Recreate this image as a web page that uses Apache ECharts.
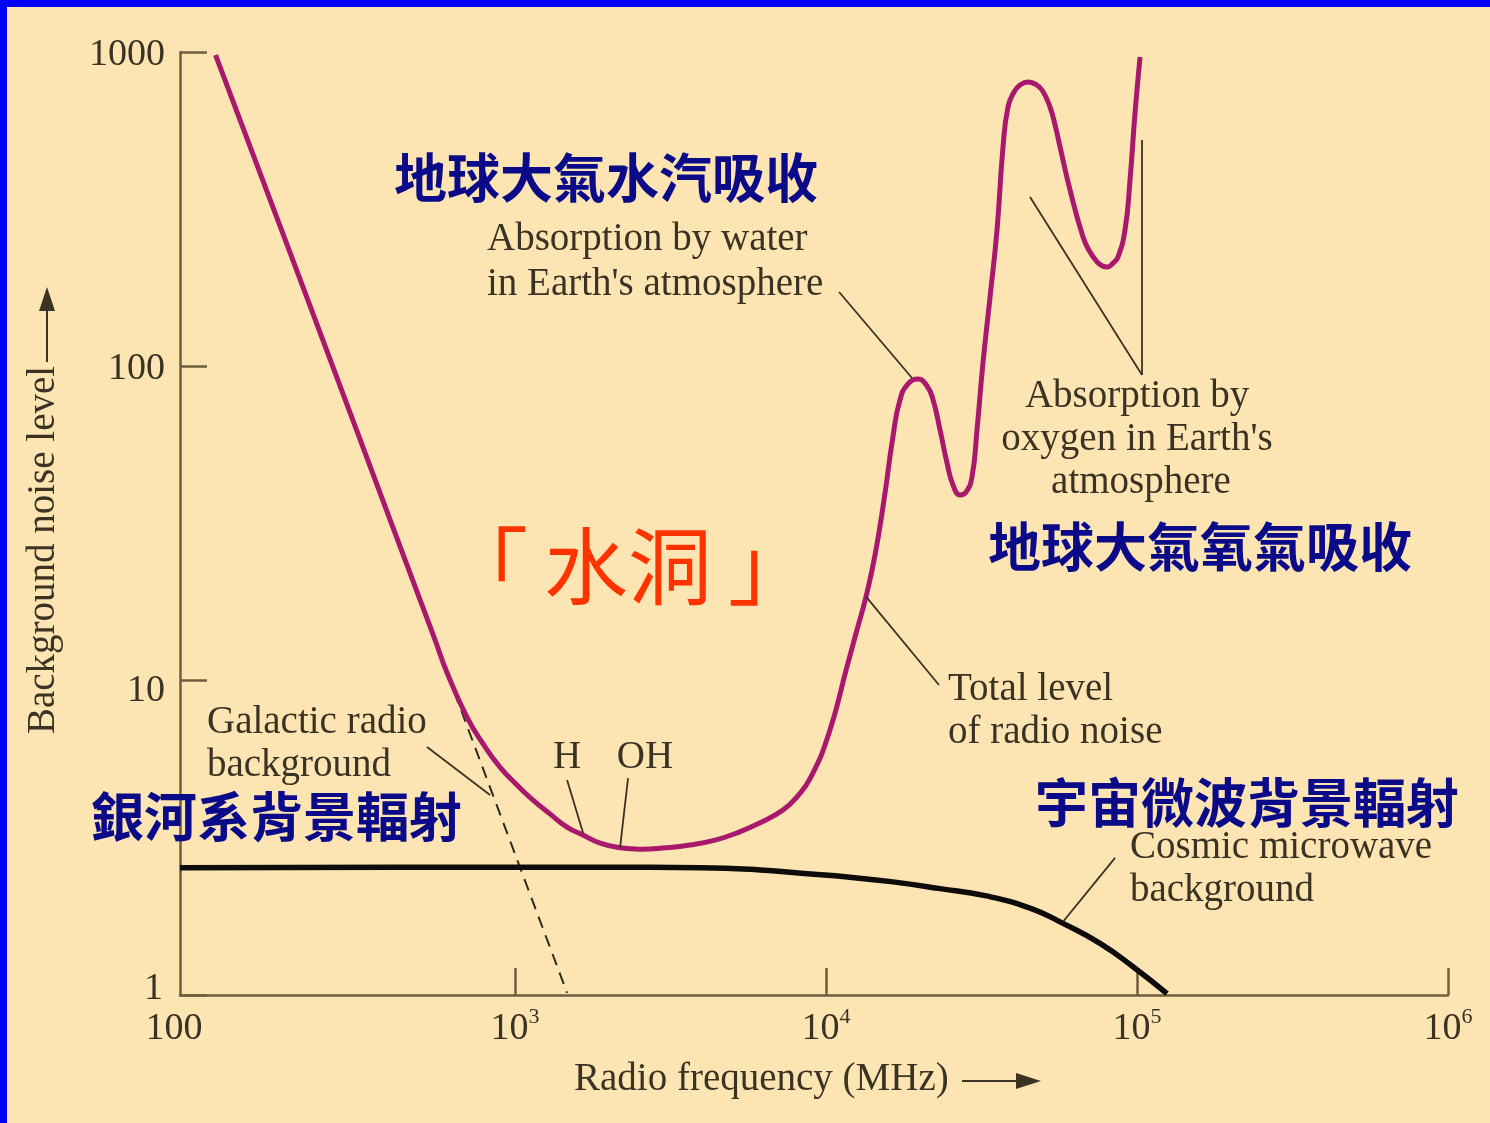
<!DOCTYPE html>
<html>
<head>
<meta charset="utf-8">
<title>Background radio noise and the water hole</title>
<script src="https://cdn.jsdelivr.net/npm/echarts@6/dist/echarts.min.js"></script>
<style>
  html, body { margin: 0; padding: 0; background: #FCE5B2; }
  #chart { width: 1490px; height: 1123px; }
</style>
</head>
<body>
<div id="chart"></div>
<script>
// ---- Data (frequency in MHz, noise level in arbitrary units) ----
// Total level of radio noise
const totalFreq = [
  109, 188, 327, 495, 553, 605, 701, 790, 895, 1015,
  1143, 1296, 1470, 1655, 1880, 2180, 2520, 3040, 3650, 4400,
  5180, 6140, 7280, 8071, 8950, 10230, 11690, 12580, 13450, 14380,
  15370, 16430, 17300, 18360, 19770, 21130, 22100, 23270, 24500, 25620,
  26980, 28200, 29480, 30590, 31990, 33690, 35480, 37090, 38490, 40240,
  42070, 44640, 47010, 49510, 52530, 54510, 56570, 60910, 67070, 70630,
  74390, 77180, 80100, 83750, 86910, 91540, 94990, 98560, 102300
];
const totalLevel = [
  978, 234, 54.2, 18.1, 13.5, 10.6, 7.66, 6.29, 5.31, 4.66,
  4.17, 3.77, 3.42, 3.23, 3.04, 2.94, 2.91, 2.94, 3.00, 3.11,
  3.28, 3.53, 3.88, 4.27, 4.94, 6.82, 11.1, 14.5, 18.5, 25.1,
  37.6, 60.0, 78.2, 87.9, 91.1, 86.6, 78.2, 62.7, 49.3, 41.9,
  39.0, 39.8, 44.5, 62.7, 103, 166, 272, 499, 668, 746,
  785, 803, 791, 757, 668, 586, 499, 364, 258, 231,
  215, 209, 207, 213, 223, 272, 392, 640, 964
];

// Cosmic microwave background
const cmbFreq  = [83.8, 427, 1877, 3936, 6138, 8313, 11950, 16430, 23270, 32460, 45300, 57830, 76050, 97120, 124900];
const cmbLevel = [2.54, 2.55, 2.55, 2.54, 2.50, 2.44, 2.37, 2.29, 2.18, 2.07, 1.89, 1.69, 1.46, 1.23, 1.01];

// Galactic radio background (power law, straight in log-log)
const galFreq  = [109, 1471];
const galLevel = [978, 1.015];

// Axis ticks (log10 of MHz)
const xTickExp  = [3, 4, 5, 6];
const xLabelExp = [2, 3, 4, 5, 6];
const X_MIN = 1.923, X_MAX = 6;

// Leader lines for the callouts: [from, to] as [MHz, level]
const leaderWater   = [[11020, 172.4], [18910, 91.8]];
const leaderO2Diag  = [[45300, 345.7], [103800, 93.9]];
const leaderO2Vert  = [[103800, 525], [103800, 93.9]];
const leaderTotal   = [[13450, 18.5], [23090, 9.69]];
const leaderH       = [[1471, 4.83], [1655, 3.28]];
const leaderOH      = [[2310, 4.90], [2177, 2.94]];
const leaderGalaxy  = [[521.6, 6.15], [831.3, 4.33]];
const leaderCosmic  = [[85000, 2.73], [57830, 1.71]];

// ---- Styling ----
const SERIF = '"Liberation Serif", "Times New Roman", serif';
const CJK = '"Noto Sans CJK TC", "Noto Sans CJK SC", sans-serif';
const INK = '#3a3223';
const AXIS = '#6f5d40';
const NAVY = '#0B0B8A';
const MAGENTA = '#A8196E';
const RED = '#FF3300';

const pt = (f, v) => [Math.log10(f), v];
const zip = (fs, vs) => fs.map((f, i) => pt(f, vs[i]));

function serifText(text, x, y, align) {
  return {
    type: 'text', x: x, y: y, z: 50,
    style: { text: text, font: '39px ' + SERIF, fill: INK, align: align || 'left', verticalAlign: 'middle' }
  };
}
function cjkText(text, x, y) {
  return {
    type: 'text', x: x, y: y, z: 50,
    style: { text: text, font: 'bold 53px ' + CJK, fill: NAVY, align: 'left', verticalAlign: 'middle' }
  };
}
function redText(text, x, y) {
  return {
    type: 'text', x: x, y: y, z: 50,
    style: { text: text, font: '84px ' + CJK, fill: RED, align: 'left', verticalAlign: 'middle' }
  };
}

const yLabelRich = {
  n:   { fontFamily: SERIF, fontSize: 38, color: INK, padding: [6, 0, 0, 0] },
  ten: { fontFamily: SERIF, fontSize: 38, color: INK, padding: [20, 0, 0, 0] },
  one: { fontFamily: SERIF, fontSize: 38, color: INK, padding: [0, 2, 12, 0] }
};

const chart = echarts.init(document.getElementById('chart'), null, { renderer: 'canvas' });

const option = {
  animation: false,
  backgroundColor: '#FCE5B2',
  grid: { left: 180, right: 42, top: 52, bottom: 128, containLabel: false },
  xAxis: {
    type: 'value',
    min: X_MIN,
    max: X_MAX,
    axisLine: { show: true, lineStyle: { color: AXIS, width: 2.5 } },
    axisTick: { show: true, inside: true, length: 27, customValues: xTickExp, lineStyle: { color: AXIS, width: 2.5 } },
    splitLine: { show: false },
    axisLabel: {
      customValues: xLabelExp,
      margin: 11,
      formatter: v => (v === 2 ? '{origin|100}' : '{base|10}{sup|' + v + '}'),
      rich: {
        origin: { fontFamily: SERIF, fontSize: 38, color: INK, lineHeight: 46, padding: [0, 60, 0, 0] },
        base: { fontFamily: SERIF, fontSize: 38, color: INK, lineHeight: 46 },
        sup: { fontFamily: SERIF, fontSize: 22, color: INK, lineHeight: 22, verticalAlign: 'top' }
      }
    }
  },
  yAxis: {
    type: 'log',
    logBase: 10,
    min: 1,
    max: 1000,
    axisLine: { show: true, lineStyle: { color: AXIS, width: 2.5 } },
    axisTick: { show: true, inside: true, length: 27, lineStyle: { color: AXIS, width: 2.5 } },
    splitLine: { show: false },
    axisLabel: {
      margin: 15,
      formatter: v => {
        const n = Math.round(v);
        if (n === 1) return '{one|1}';
        if (n === 10) return '{ten|10}';
        return '{n|' + n + '}';
      },
      rich: yLabelRich
    }
  },
  series: [
    {
      name: 'Galactic radio background',
      type: 'line', data: zip(galFreq, galLevel), symbol: 'none', z: 2,
      lineStyle: { color: '#2e2a22', width: 2, type: [12, 8] }
    },
    {
      name: 'Cosmic microwave background',
      type: 'line', data: zip(cmbFreq, cmbLevel), symbol: 'none', smooth: 0.5, z: 3,
      lineStyle: { color: '#0d0c0a', width: 5.5 }
    },
    {
      name: 'Total level of radio noise',
      type: 'line', data: zip(totalFreq, totalLevel), symbol: 'none', smooth: 0.5, z: 4,
      lineStyle: { color: MAGENTA, width: 5 }
    },
    {
      name: 'leaders',
      type: 'lines', coordinateSystem: 'cartesian2d', z: 5, silent: true,
      lineStyle: { color: INK, width: 1.8, opacity: 1, curveness: 0 },
      data: [leaderWater, leaderO2Diag, leaderO2Vert, leaderTotal, leaderH, leaderOH, leaderGalaxy, leaderCosmic]
        .map(seg => ({ coords: seg.map(p => pt(p[0], p[1])) }))
    }
  ],
  graphic: [
    // frame bands
    { type: 'rect', z: 100, shape: { x: 0, y: 0, width: 1490, height: 7 }, style: { fill: '#0000FF' } },
    { type: 'rect', z: 100, shape: { x: 0, y: 0, width: 7, height: 1123 }, style: { fill: '#0000FF' } },

    // axis titles
    {
      type: 'text', x: 44, y: 550, rotation: Math.PI / 2, z: 50,
      style: { text: 'Background noise level', font: '39px ' + SERIF, fill: INK, align: 'center', verticalAlign: 'middle' }
    },
    { type: 'line', z: 50, shape: { x1: 47, y1: 362, x2: 47, y2: 306 }, style: { stroke: INK, lineWidth: 2 } },
    { type: 'polygon', z: 50, shape: { points: [[47, 287], [39, 311], [55, 311]] }, style: { fill: INK } },

    serifText('Radio frequency (MHz)', 574, 1080),
    { type: 'line', z: 50, shape: { x1: 962, y1: 1081, x2: 1020, y2: 1081 }, style: { stroke: INK, lineWidth: 2 } },
    { type: 'polygon', z: 50, shape: { points: [[1041, 1081], [1016, 1073], [1016, 1089]] }, style: { fill: INK } },

    // callout texts
    serifText('Absorption by water', 487, 240),
    serifText("in Earth's atmosphere", 487, 285),
    serifText('Absorption by', 1137, 397, 'center'),
    serifText("oxygen in Earth's", 1137, 440, 'center'),
    serifText('atmosphere', 1141, 483, 'center'),
    serifText('Total level', 948, 690),
    serifText('of radio noise', 948, 733),
    serifText('Galactic radio', 207, 723),
    serifText('background', 207, 766),
    serifText('H', 567, 758, 'center'),
    serifText('OH', 645, 758, 'center'),
    serifText('Cosmic microwave', 1130, 848),
    serifText('background', 1130, 891),

    // Chinese captions
    cjkText('地球大氣水汽吸收', 394, 178),
    cjkText('地球大氣氧氣吸收', 988, 547),
    cjkText('銀河系背景輻射', 91, 817),
    cjkText('宇宙微波背景輻射', 1035, 803),
    redText('「', 444, 566),
    redText('水洞', 544, 566),
    redText('」', 728, 566)
  ]
};

chart.setOption(option);
</script>
</body>
</html>
